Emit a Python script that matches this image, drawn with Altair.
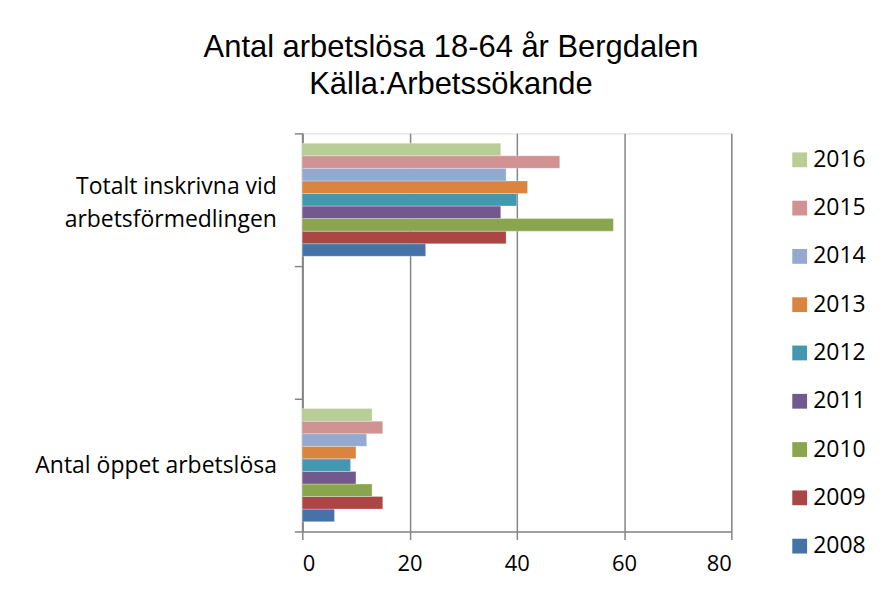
import altair as alt
import pandas as pd

categories = ["Totalt inskrivna vid arbetsförmedlingen", " ", "Antal öppet arbetslösa"]
years = ["2008", "2009", "2010", "2011", "2012", "2013", "2014", "2015", "2016"]
totalt_values = [23, 38, 58, 37, 40, 42, 38, 48, 37]
oppet_values = [6, 15, 13, 10, 9, 10, 12, 15, 13]
colors = ["#4572A7", "#AA4643", "#89A54E", "#71588F", "#4198AF",
          "#DB843D", "#93A9CF", "#D19392", "#B9CD96"]

rows = []
for y, v in zip(years, totalt_values):
    rows.append({"kategori": categories[0], "år": y, "antal": v})
for y, v in zip(years, oppet_values):
    rows.append({"kategori": categories[2], "år": y, "antal": v})
df = pd.DataFrame(rows)

years_desc = years[::-1]
colors_desc = colors[::-1]
label_font = "Open Sans"

chart = alt.Chart(df).mark_bar(stroke="white", strokeWidth=0.6, strokeOpacity=0.5).encode(
    x=alt.X("antal:Q",
            scale=alt.Scale(domain=[0, 80], nice=False),
            axis=alt.Axis(values=[0, 20, 40, 60, 80], title=None, grid=True,
                          gridColor="#868686", gridWidth=1.5,
                          domainColor="#868686", domainWidth=1.5,
                          tickColor="#868686", tickWidth=1.5, tickSize=8,
                          labelFont=label_font, labelFontSize=22, labelColor="black",
                          labelPadding=14)),
    y=alt.Y("kategori:N",
            scale=alt.Scale(domain=categories, paddingInner=0, paddingOuter=0),
            axis=alt.Axis(title=None, tickBand="extent",
                          domainColor="#868686", domainWidth=2,
                          tickColor="#868686", tickWidth=1.5, tickSize=8,
                          labelFont=label_font, labelFontSize=23, labelColor="black",
                          labelPadding=18, labelLineHeight=33, labelLimit=300,
                          labelOffset={"condition": {"test": "datum.value == 'Totalt inskrivna vid arbetsförmedlingen'",
                                                     "value": -13}, "value": 0},
                          labelExpr="datum.value == 'Totalt inskrivna vid arbetsförmedlingen' ? ['Totalt inskrivna vid', 'arbetsförmedlingen'] : datum.label")),
    yOffset=alt.YOffset("år:N", sort=years_desc,
                        scale=alt.Scale(paddingInner=0, paddingOuter=0.78)),
    color=alt.Color("år:N",
                    scale=alt.Scale(domain=years_desc, range=colors_desc),
                    legend=alt.Legend(title=None, orient="none", legendX=487, legendY=15,
                                      symbolType="square", symbolSize=220,
                                      symbolStrokeWidth=0,
                                      labelFont=label_font, labelFontSize=23,
                                      labelColor="black", rowPadding=24.4,
                                      labelOffset=2)),
).properties(
    width=430,
    height=399,
    title=alt.TitleParams(["Antal arbetslösa 18-64 år Bergdalen", "Källa:Arbetssökande"],
                          font="Liberation Sans", fontSize=31, fontWeight="normal",
                          color="black", anchor="middle", dx=-66, offset=21,
                          lineHeight=38),
    autosize=alt.AutoSizeParams(type="none"),
    padding={"left": 295, "top": 125, "right": 150, "bottom": 55},
).configure_view(stroke=None).configure(background="white")

chart.save("out.html", embed_options={"renderer": "svg", "actions": False})
